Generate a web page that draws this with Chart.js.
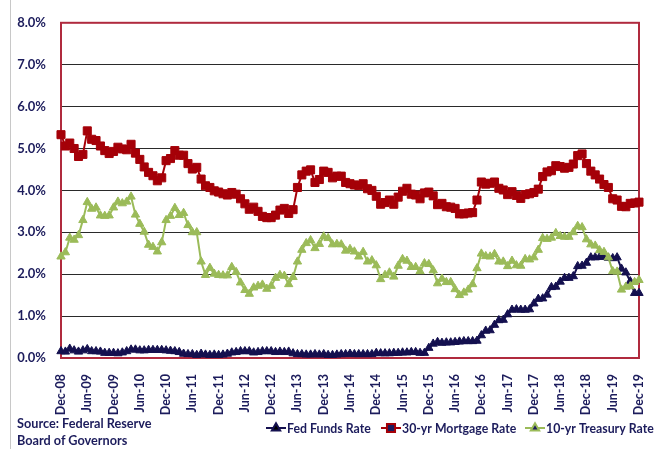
<!DOCTYPE html>
<html>

<head>
    <title>Interest rates</title>
    <meta charset="utf-8">
    <script src="https://cdn.jsdelivr.net/npm/chart.js@4"></script>
    <style>
        body { margin: 0; background: #fff; }
        #wrap { position: relative; width: 662px; height: 449px; }
        #edge { position: absolute; left: 10px; top: 0; width: 1px; height: 449px; background: #c8c8c8; }
        #source { position: absolute; left: 17px; top: 415px; font: bold 12.7px Lato, sans-serif; color: #1c1c5c; line-height: 17px; }
    </style>
</head>

<body>
    <div id="wrap">
        <canvas id="myChart" width="662" height="449"></canvas>
        <div id="edge"></div>
        <div id="source">Source: Federal Reserve<br>Board of Governors</div>
    </div>

    <script>
        // monthly, Dec-08 .. Dec-19
        const monthNames = ["Jan", "Feb", "Mar", "Apr", "May", "Jun", "Jul", "Aug", "Sep", "Oct", "Nov", "Dec"];
        const firstYear = 8, firstMonth = 11, monthCount = 133;

        const fedFunds = [
            0.16,
            0.15, 0.22, 0.18, 0.15, 0.18, 0.21, 0.16, 0.16, 0.15, 0.12, 0.12, 0.12,
            0.11, 0.13, 0.16, 0.20, 0.20, 0.18, 0.18, 0.19, 0.19, 0.19, 0.19, 0.18,
            0.17, 0.16, 0.14, 0.10, 0.09, 0.09, 0.07, 0.10, 0.08, 0.07, 0.08, 0.07,
            0.08, 0.10, 0.13, 0.14, 0.16, 0.16, 0.16, 0.13, 0.14, 0.16, 0.16, 0.16,
            0.14, 0.15, 0.14, 0.15, 0.11, 0.09, 0.09, 0.08, 0.08, 0.09, 0.08, 0.09,
            0.07, 0.07, 0.08, 0.09, 0.09, 0.10, 0.09, 0.09, 0.09, 0.09, 0.09, 0.12,
            0.11, 0.11, 0.11, 0.12, 0.12, 0.13, 0.13, 0.14, 0.14, 0.12, 0.12, 0.24,
            0.34, 0.38, 0.36, 0.37, 0.37, 0.38, 0.39, 0.40, 0.40, 0.40, 0.41, 0.54,
            0.65, 0.66, 0.79, 0.90, 0.91, 1.04, 1.15, 1.16, 1.15, 1.15, 1.16, 1.30,
            1.41, 1.42, 1.51, 1.69, 1.70, 1.82, 1.91, 1.91, 1.95, 2.19, 2.20, 2.27,
            2.40, 2.40, 2.41, 2.42, 2.39, 2.38, 2.40, 2.13, 2.04, 1.83, 1.55, 1.55
        ];

        const mortgage = [
            5.33,
            5.06, 5.13, 5.00, 4.81, 4.86, 5.42, 5.22, 5.19, 5.06, 4.95, 4.88, 4.93,
            5.03, 4.99, 4.97, 5.10, 4.89, 4.74, 4.56, 4.43, 4.35, 4.23, 4.30, 4.71,
            4.76, 4.95, 4.84, 4.84, 4.64, 4.51, 4.55, 4.27, 4.11, 4.07, 3.99, 3.96,
            3.92, 3.89, 3.95, 3.91, 3.80, 3.68, 3.55, 3.60, 3.50, 3.38, 3.35, 3.35,
            3.41, 3.53, 3.57, 3.45, 3.54, 4.07, 4.37, 4.46, 4.49, 4.19, 4.26, 4.46,
            4.43, 4.30, 4.34, 4.34, 4.19, 4.16, 4.13, 4.12, 4.16, 4.04, 4.00, 3.86,
            3.67, 3.71, 3.77, 3.67, 3.84, 3.98, 4.05, 3.91, 3.89, 3.80, 3.94, 3.96,
            3.87, 3.66, 3.69, 3.61, 3.60, 3.57, 3.44, 3.44, 3.46, 3.47, 3.77, 4.20,
            4.15, 4.17, 4.20, 4.05, 4.01, 3.90, 3.97, 3.88, 3.81, 3.90, 3.92, 3.95,
            4.03, 4.33, 4.44, 4.47, 4.59, 4.57, 4.53, 4.55, 4.63, 4.83, 4.87, 4.64,
            4.46, 4.37, 4.27, 4.14, 4.07, 3.80, 3.77, 3.62, 3.61, 3.69, 3.70, 3.72
        ];

        const treasury = [
            2.42,
            2.52, 2.87, 2.82, 2.93, 3.29, 3.72, 3.56, 3.59, 3.40, 3.39, 3.40, 3.59,
            3.73, 3.69, 3.73, 3.85, 3.42, 3.20, 3.01, 2.70, 2.65, 2.54, 2.76, 3.29,
            3.39, 3.58, 3.41, 3.46, 3.17, 3.00, 3.00, 2.30, 1.98, 2.15, 2.01, 1.98,
            1.97, 1.97, 2.17, 2.05, 1.80, 1.62, 1.53, 1.68, 1.72, 1.75, 1.65, 1.72,
            1.91, 1.98, 1.96, 1.76, 1.93, 2.30, 2.58, 2.74, 2.81, 2.62, 2.72, 2.90,
            2.86, 2.71, 2.72, 2.71, 2.56, 2.60, 2.54, 2.42, 2.53, 2.30, 2.33, 2.21,
            1.88, 1.98, 2.04, 1.94, 2.20, 2.36, 2.32, 2.17, 2.17, 2.07, 2.26, 2.24,
            2.09, 1.78, 1.89, 1.81, 1.81, 1.64, 1.50, 1.56, 1.63, 1.76, 2.14, 2.49,
            2.43, 2.42, 2.48, 2.30, 2.30, 2.19, 2.32, 2.21, 2.20, 2.36, 2.35, 2.40,
            2.58, 2.86, 2.84, 2.87, 2.98, 2.91, 2.89, 2.89, 3.00, 3.15, 3.12, 2.83,
            2.71, 2.68, 2.57, 2.53, 2.40, 2.07, 2.06, 1.63, 1.70, 1.71, 1.81, 1.86
        ];

        const seriesNames = ["Fed Funds Rate", "30-yr Mortgage Rate", "10-yr Treasury Rate"];

        let labels = [];
        for (let i = 0; i < monthCount; i++) {
            let m = (firstMonth + i) % 12;
            let y = firstYear + Math.floor((firstMonth + i) / 12);
            labels.push(monthNames[m] + "-" + String(y).padStart(2, "0"));
        }

        const navy = "#1c1c5c";
        const font = "Lato, sans-serif";

        // frame round the plot area, drawn under the lines
        const framePlugin = {
            id: "frame",
            beforeDatasetsDraw(chart) {
                const a = chart.chartArea;
                const ctx = chart.ctx;
                ctx.save();
                ctx.strokeStyle = "#b02a3e";
                ctx.lineWidth = 2;
                ctx.strokeRect(a.left, a.top, a.right - a.left, a.bottom - a.top);
                ctx.restore();
            }
        };

        // legend with a short line and the marker, like the spreadsheet one
        const legendPlugin = {
            id: "lineLegend",
            afterDraw(chart) {
                const ctx = chart.ctx;
                const y = 428;
                const xs = [266, 381, 525];
                ctx.save();
                ctx.font = "bold 12.3px " + font;
                ctx.textBaseline = "middle";
                chart.data.datasets.forEach((ds, i) => {
                    let x = xs[i];
                    ctx.strokeStyle = ds.borderColor;
                    ctx.lineWidth = 2;
                    ctx.beginPath();
                    ctx.moveTo(x, y);
                    ctx.lineTo(x + 20, y);
                    ctx.stroke();
                    Chart.helpers.drawPoint(ctx, {
                        pointStyle: ds.pointStyle,
                        radius: ds.pointRadius,
                        borderWidth: 1
                    }, x + 10, y);
                    ctx.fillStyle = navy;
                    ctx.fillText(ds.label, x + 21, y + 1);
                });
                ctx.restore();
            }
        };

        const ctx = document.getElementById("myChart");

        let chart = new Chart(ctx, {
            type: "line",
            data: {
                labels: labels,
                datasets: [{
                    label: seriesNames[0],
                    data: fedFunds,
                    borderColor: "#14104f",
                    backgroundColor: "#14104f",
                    pointStyle: "triangle",
                    pointRadius: 4.8,
                    pointBorderWidth: 1,
                    borderWidth: 2,
                    order: 3
                }, {
                    label: seriesNames[1],
                    data: mortgage,
                    borderColor: "#a50008",
                    backgroundColor: "#a50008",
                    pointStyle: "rect",
                    pointRadius: 5.7,
                    pointBorderWidth: 1,
                    borderWidth: 2,
                    order: 2
                }, {
                    label: seriesNames[2],
                    data: treasury,
                    borderColor: "#9bbb59",
                    backgroundColor: "#9bbb59",
                    pointStyle: "triangle",
                    pointRadius: 4.8,
                    pointBorderWidth: 1,
                    borderWidth: 2,
                    order: 1
                }]
            },
            options: {
                responsive: false,
                animation: false,
                layout: {
                    padding: { top: 14, right: 11, left: 0, bottom: 0 }
                },
                plugins: {
                    legend: { display: false },
                    tooltip: { enabled: false }
                },
                elements: {
                    line: { tension: 0 }
                },
                scales: {
                    x: {
                        offset: false,
                        grid: { display: false },
                        border: { display: false },
                        afterFit: s => { s.height = 91; },
                        ticks: {
                            autoSkip: false,
                            minRotation: 90,
                            maxRotation: 90,
                            padding: 8,
                            color: navy,
                            font: { family: font, size: 12.5, weight: "bold" },
                            callback: function (v, i) {
                                return i % 6 === 0 ? labels[i] : "";
                            }
                        }
                    },
                    y: {
                        min: 0,
                        max: 8,
                        border: { display: false },
                        grid: { color: "#2a2a2a", lineWidth: 1, drawTicks: false },
                        afterFit: s => { s.width = 61; },
                        ticks: {
                            stepSize: 1,
                            padding: 15,
                            color: navy,
                            font: { family: font, size: 13, weight: "bold" },
                            callback: v => v.toFixed(1) + "%"
                        }
                    }
                }
            },
            plugins: [framePlugin, legendPlugin]
        });
    </script>
</body>

</html>
